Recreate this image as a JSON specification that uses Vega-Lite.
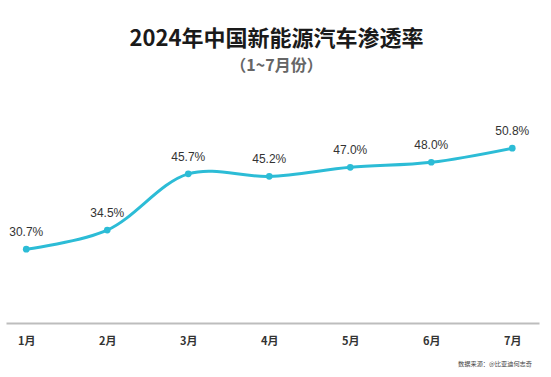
{
  "$schema": "https://vega.github.io/schema/vega-lite/v6.json",
  "width": 533,
  "height": 220,
  "autosize": {"type": "none"},
  "padding": {"left": 6, "top": 103, "right": 12, "bottom": 54},
  "background": "white",
  "config": {"view": {"stroke": null}, "font": "Noto Sans CJK SC"},
  "title": {
    "text": "2024年中国新能源汽车渗透率",
    "subtitle": "（1~7月份）",
    "anchor": "middle",
    "dx": 4,
    "offset": 28,
    "fontSize": 22,
    "fontWeight": "bold",
    "color": "#1a1a1a",
    "subtitleFontSize": 16,
    "subtitleFontWeight": "bold",
    "subtitleColor": "#666666",
    "subtitlePadding": 7,
    "font": "Noto Sans CJK SC",
    "subtitleFont": "Noto Sans CJK SC"
  },
  "data": {
    "values": [
      {"m": 1, "rate": 30.7, "text": "30.7%"},
      {"m": 2, "rate": 34.5, "text": "34.5%"},
      {"m": 3, "rate": 45.7, "text": "45.7%"},
      {"m": 4, "rate": 45.2, "text": "45.2%"},
      {"m": 5, "rate": 47.0, "text": "47.0%"},
      {"m": 6, "rate": 48.0, "text": "48.0%"},
      {"m": 7, "rate": 50.8, "text": "50.8%"}
    ]
  },
  "encoding": {
    "x": {
      "field": "m", "type": "quantitative",
      "scale": {"domain": [0.75, 7.33], "nice": false, "zero": false},
      "axis": {
        "values": [1, 2, 3, 4, 5, 6, 7],
        "labelExpr": "datum.value + '月'",
        "title": null, "ticks": false, "grid": false,
        "domainColor": "#bdbdbd", "domainWidth": 2,
        "labelFontSize": 11, "labelFontWeight": "bold", "labelColor": "#333333",
        "labelPadding": 12, "labelFlush": false
      }
    },
    "y": {"field": "rate", "type": "quantitative", "scale": {"domain": [16, 59.8], "nice": false, "zero": false}, "axis": null}
  },
  "layer": [
    {
      "mark": {"type": "line", "interpolate": "catmull-rom", "color": "#2cbcd6", "strokeWidth": 3, "clip": false},
      "encoding": {}
    },
    {
      "mark": {"type": "circle", "color": "#2cbcd6", "size": 45, "opacity": 1, "clip": false},
      "encoding": {}
    },
    {
      "mark": {"type": "text", "dy": -17, "fontSize": 12, "color": "#333333", "font": "Liberation Sans", "clip": false},
      "encoding": {"text": {"field": "text"}}
    },
    {
      "data": {"values": [{"note": "数据来源：@比亚迪何志奇"}]},
      "mark": {"type": "text", "align": "right", "fontSize": 6.2, "color": "#444444", "clip": false, "dy": 41, "dx": -7},
      "encoding": {
        "text": {"field": "note"},
        "x": {"value": "width"},
        "y": {"value": "height"}
      }
    }
  ]
}
